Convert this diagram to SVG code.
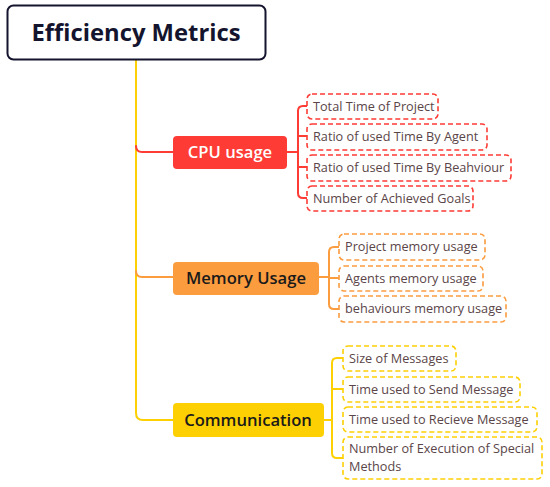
<svg xmlns="http://www.w3.org/2000/svg" width="550" height="487" viewBox="0 0 550 487">
<style>
.conn{fill:none;stroke-width:2;stroke-linecap:round;stroke-linejoin:round}
.leaf{fill:#fff;stroke-width:1.6;stroke-dasharray:5 3}
.lt{font-family:"Open Sans",Lato,"Liberation Sans",sans-serif;font-size:12.7px;fill:#5a4548}
.bt{font-family:"Open Sans",Lato,"Liberation Sans",sans-serif;font-size:16.6px;font-weight:600;text-anchor:middle}
.red{stroke:#fe3b34}
.org{stroke:#fb9c3f}
.yel{stroke:#fdd003}
</style>
<rect width="550" height="487" fill="#fff"/>
<g id="connectors">
  <path class="conn yel" d="M136 60 V413 Q136 420 143 420 H173"/>
  <path class="conn red" d="M136 146 Q136 152 142 152 H173"/>
  <path class="conn org" d="M136 271 Q136 277 142 277 H173"/>
  <path class="conn red" d="M287 152 H298 M307 106 H303 Q298 106 298 111 V193 Q298 198 303 198 H307 M298 136 H307 M298 167 H307"/>
  <path class="conn org" d="M319 277 H329 M339 247 H334 Q329 247 329 252 V304 Q329 309 334 309 H339 M329 278 H339"/>
  <path class="conn yel" d="M324 420 H332 M343 358 H337 Q332 358 332 363 V453 Q332 458 337 458 H343 M332 389 H343"/>
</g>
<g id="root">
  <rect x="7.5" y="5.5" width="258" height="54" rx="6" fill="#fff" stroke="#14142e" stroke-width="2"/>
  <text x="136" y="40.5" text-anchor="middle" font-family="'Open Sans',Lato,'Liberation Sans',sans-serif" font-size="23.8" font-weight="700" fill="#14142e">Efficiency Metrics</text>
</g>
<g id="cpu">
  <rect x="173" y="136" width="114" height="33" rx="4" fill="#fe3b34"/>
  <text class="bt" x="230" y="158" fill="#fff" font-size="17.4">CPU usage</text>
</g>
<g id="cpu1"><rect class="leaf red" x="307" y="94" width="131" height="25" rx="5"/><text class="lt" x="313" y="111">Total Time of Project</text></g>
<g id="cpu2"><rect class="leaf red" x="307" y="124" width="180" height="26" rx="5"/><text class="lt" x="313" y="141">Ratio of used Time By Agent</text></g>
<g id="cpu3"><rect class="leaf red" x="307" y="155" width="204" height="26" rx="5"/><text class="lt" x="313" y="172">Ratio of used Time By Beahviour</text></g>
<g id="cpu4"><rect class="leaf red" x="307" y="186" width="166" height="25" rx="5"/><text class="lt" x="313" y="203">Number of Achieved Goals</text></g>
<g id="memory">
  <rect x="173" y="262" width="146" height="33" rx="4" fill="#fb9c3f"/>
  <text class="bt" x="246" y="284" fill="#1a1a1a">Memory Usage</text>
</g>
<g id="mem1"><rect class="leaf org" x="339" y="234" width="146" height="26" rx="5"/><text class="lt" x="345" y="251">Project memory usage</text></g>
<g id="mem2"><rect class="leaf org" x="339" y="266" width="144" height="25" rx="5"/><text class="lt" x="345" y="283">Agents memory usage</text></g>
<g id="mem3"><rect class="leaf org" x="339" y="296" width="167" height="26" rx="5"/><text class="lt" x="345" y="313">behaviours memory usage</text></g>
<g id="communication">
  <rect x="173" y="403" width="151" height="34" rx="4" fill="#fdd003"/>
  <text class="bt" x="248" y="426" fill="#1a1a1a" font-size="16.2">Communication</text>
</g>
<g id="com1"><rect class="leaf yel" x="343" y="346" width="113" height="25" rx="5"/><text class="lt" x="349" y="363">Size of Messages</text></g>
<g id="com2"><rect class="leaf yel" x="343" y="377" width="177" height="25" rx="5"/><text class="lt" x="349" y="394">Time used to Send Message</text></g>
<g id="com3"><rect class="leaf yel" x="343" y="407" width="194" height="25" rx="5"/><text class="lt" x="349" y="424">Time used to Recieve Message</text></g>
<g id="com4"><rect class="leaf yel" x="343" y="437" width="199" height="42" rx="5"/><text class="lt" x="349" y="453">Number of Execution of Special</text><text class="lt" x="349" y="471">Methods</text></g>
</svg>
